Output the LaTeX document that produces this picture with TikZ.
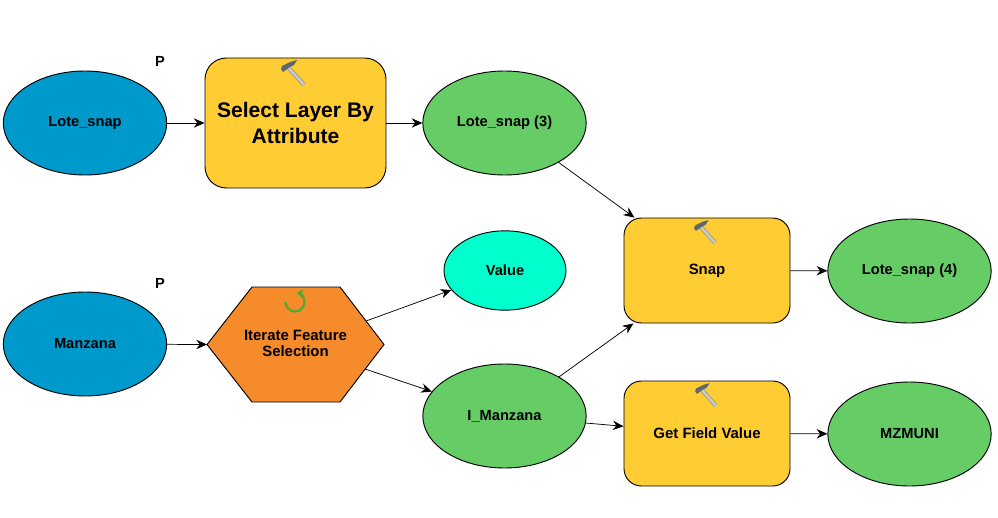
\documentclass[tikz,border=0pt]{standalone}
\usepackage{fontspec}
\setmainfont{Liberation Sans}
\usetikzlibrary{arrows.meta,shapes.geometric}
\definecolor{inblue}{HTML}{0099CC}
\definecolor{outgreen}{HTML}{66CC66}
\definecolor{toolyellow}{HTML}{FFCC33}
\definecolor{iterorange}{HTML}{F68B2C}
\definecolor{valcyan}{HTML}{00FFCC}
\definecolor{loopgreen}{HTML}{55A82E}
\definecolor{hammerhead}{HTML}{5F666C}
\definecolor{hammerhandle}{HTML}{C9CCC4}
\tikzset{
  x=0.75pt,y=-0.75pt,
  oval/.style={ellipse,draw=black,line width=0.7pt,inner sep=0pt,minimum width=122.5pt,minimum height=78pt,font=\bfseries\fontsize{11}{13}\selectfont},
  inputoval/.style={oval,fill=inblue},
  outputoval/.style={oval,fill=outgreen},
  toolbox/.style={rectangle,rounded corners=13pt,draw=black,line width=0.7pt,fill=toolyellow,inner sep=0pt,minimum width=124.5pt,minimum height=78.75pt,align=center,font=\bfseries\fontsize{11.2}{13}\selectfont},
  conn/.style={draw=black,line width=0.55pt,-{Stealth[length=8pt,width=7pt]}},
  marker/.style={font=\bfseries\fontsize{11}{12}\selectfont},
  hexshape/.style={draw=black,line width=0.7pt,fill=iterorange},
  hammer/.pic={
    \draw[hammerhandle!70!black,line width=3pt] (-4,-4) -- (12,14);
    \draw[hammerhandle,line width=2pt] (-4,-4) -- (12,14);
    \fill[hammerhead] (-11,-2) -- (-10,-5) -- (-2,-9) -- (5,-11) -- (2,-6) -- (-2,-4) -- (-9,1) -- cycle;
  }
}
\begin{document}
\begin{tikzpicture}
\useasboundingbox (0,0) rectangle (998,517);
\fill[white] (0,0) rectangle (998,517);
\node[inputoval] (lote) at (85,123) {Lote\_snap};
\node[inputoval] (manz) at (85,344) {Manzana};
\node[toolbox,minimum width=135.75pt,minimum height=97.5pt,rounded corners=16pt,font=\bfseries\fontsize{15.8}{19}\selectfont] (select) at (295.5,123) {Select Layer By\\Attribute};
\node[outputoval] (lote3) at (504.5,123) {Lote\_snap (3)};
\node[toolbox] (snap) at (707,270.5) {Snap};
\node[outputoval] (lote4) at (909.5,271) {Lote\_snap (4)};
\node[oval,fill=valcyan,minimum width=91.5pt,minimum height=59.5pt] (value) at (505,270.5) {Value};
\draw[hexshape] (207,344.5) -- (252,287) -- (340,287) -- (384,344.5) -- (340,402) -- (252,402) -- cycle;
\node[align=center,inner sep=0pt,font=\bfseries\fontsize{11.2}{12.2}\selectfont] (iter) at (295.5,343.5) {Iterate Feature\\Selection};
\coordinate (iterin) at (207,344.5);
\coordinate (iterup) at (366,321);
\coordinate (iterdown) at (365,369);
\node[outputoval] (iman) at (504.5,416) {I\_Manzana};
\node[toolbox] (field) at (707,433.5) {Get Field Value};
\node[outputoval] (mzm) at (909.5,434) {MZMUNI};
\node[marker] (p1) at (160,61) {P};
\node[marker] (p2) at (160,283) {P};
\draw[conn] (lote) -- (select);
\draw[conn] (select) -- (lote3);
\draw[conn] (lote3) -- (snap);
\draw[conn] (snap) -- (lote4);
\draw[conn] (manz) -- (iterin);
\draw[conn] (iterup) -- (value);
\draw[conn] (iterdown) -- (iman);
\draw[conn] (iman) -- (snap);
\draw[conn] (iman) -- (field);
\draw[conn] (field) -- (mzm);
\pic at (292,71) {hammer};
\pic[scale=.9] at (704,230) {hammer};
\pic[scale=.9] at (705,393) {hammer};
\draw[loopgreen,line width=1.7pt,-{Stealth[length=5pt,width=7pt]}] (285.5,302) arc[start angle=180,end angle=-80,radius=9.5];
\end{tikzpicture}
\end{document}
